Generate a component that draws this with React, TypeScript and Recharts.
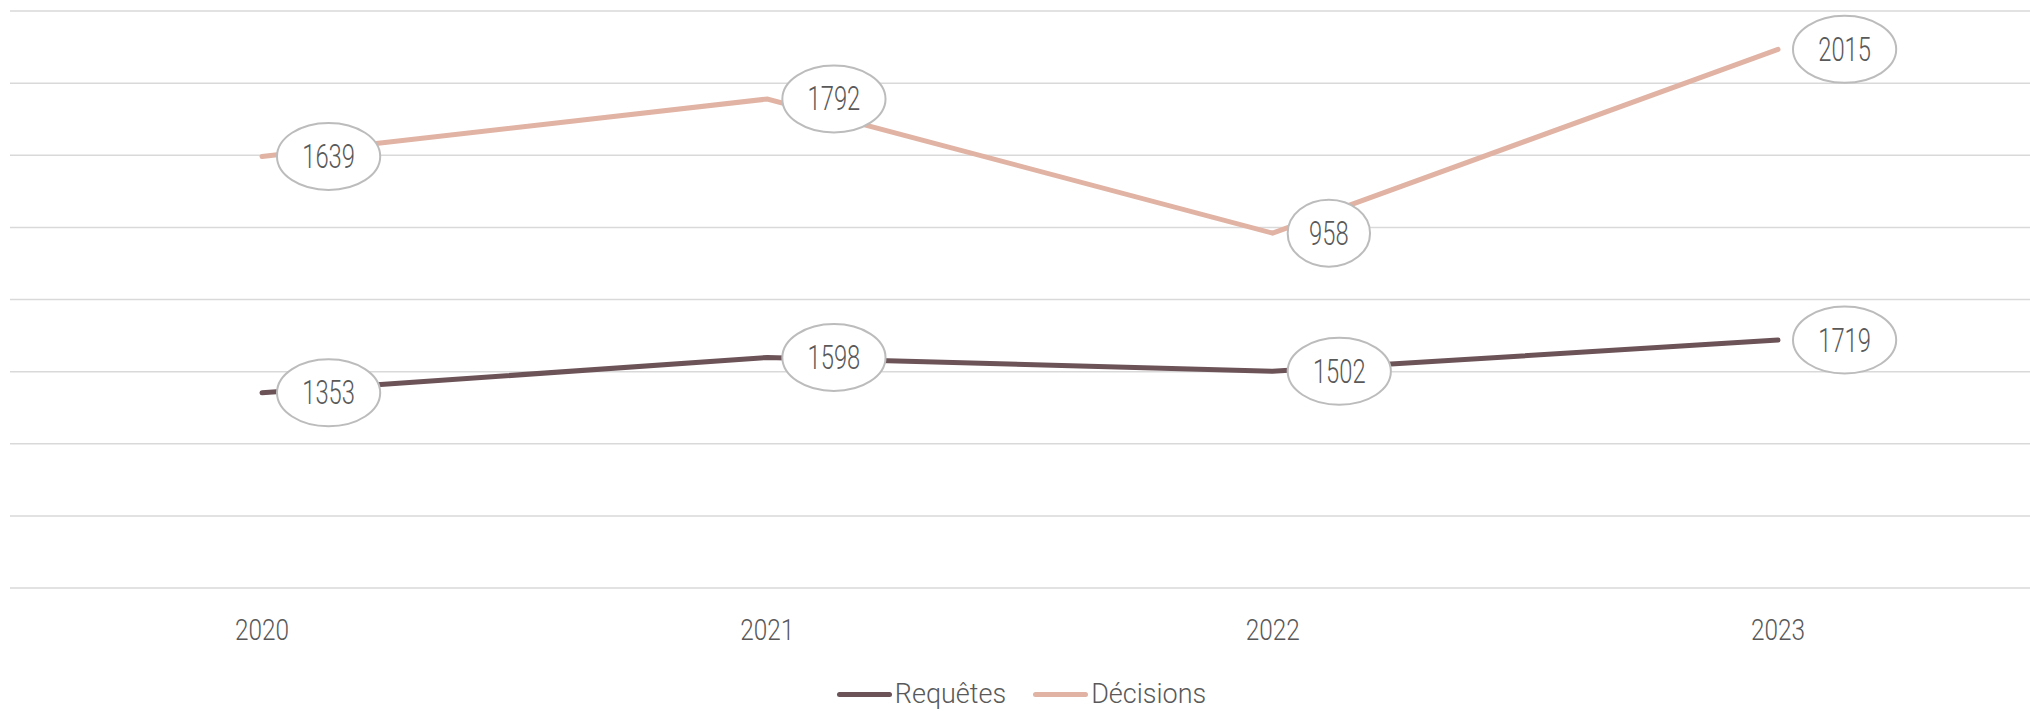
import React from 'react';
import { LineChart, Line, XAxis, YAxis, CartesianGrid, Legend, LabelList } from 'recharts';

const YEARS = ['2020', '2021', '2022', '2023'];
const REQUETES = [1353, 1598, 1502, 1719];
const DECISIONS = [1639, 1792, 958, 2015];
const Y_TICKS = [0, 500, 1000, 1500, 2000, 2500, 3000, 3500, 4000];

const FONT = 'Roboto, "DejaVu Sans Condensed", sans-serif';
const TEXT = '#595959';
const C_REQ = '#6b5358';
const C_DEC = '#e0b3a4';

// the décisions line sits on top of the requêtes (stacked lines)
const data = YEARS.map((year, i) => ({
  year,
  requetes: REQUETES[i],
  decisions: REQUETES[i] + DECISIONS[i],
}));

// the original uses a condensed face, so squeeze Roboto horizontally
const NarrowText = ({ x, y, size, squeeze, children }: any) => (
  <text
    transform={`translate(${x} ${y}) scale(${squeeze} 1)`}
    textAnchor="middle"
    dominantBaseline="central"
    fontSize={size}
    fontWeight={300}
    fill={TEXT}
    fontFamily={FONT}
  >
    {children}
  </text>
);

const bubble = (values: number[]) => (props: any) => {
  const { x, y, index } = props;
  const label = String(values[index]);
  const rx = 10 + label.length * 10.4;
  const cx = x + rx + 15;
  return (
    <g>
      <ellipse cx={cx} cy={y} rx={rx} ry={33.5} fill="#fff" stroke="#bcbcbc" strokeWidth={2} />
      <NarrowText x={cx} y={y} size={33} squeeze={0.72}>{label}</NarrowText>
    </g>
  );
};

const YearTick = (props: any) => (
  <NarrowText x={props.x} y={props.y + 8} size={29} squeeze={0.84}>{props.payload.value}</NarrowText>
);

const LegendBox = () => (
  <div style={{ display: 'flex', justifyContent: 'center', alignItems: 'center', height: 34, paddingLeft: 3, gap: 27, fontFamily: FONT, fontWeight: 300, fontSize: 27, color: TEXT }}>
    {[['Requêtes', C_REQ], ['Décisions', C_DEC]].map(([name, c]) => (
      <div key={name} style={{ display: 'flex', alignItems: 'center' }}>
        <span style={{ display: 'inline-block', width: 55, height: 5, borderRadius: 3, background: c, marginRight: 3 }} />
        {name}
      </div>
    ))}
  </div>
);

export default function App() {
  return (
    <div style={{ position: 'absolute', left: 0, top: 0, background: '#fff' }}>
      <LineChart width={2030} height={711} data={data} margin={{ top: 11, right: 0, bottom: 0, left: 10 }}>
        <CartesianGrid vertical={false} stroke="#d9d9d9" strokeWidth={1.5} />
        <XAxis
          dataKey="year"
          height={89}
          padding={{ left: 252, right: 252 }}
          axisLine={false}
          tickLine={false}
          tickSize={6}
          tickMargin={28}
          tick={<YearTick />}
        />
        <YAxis hide domain={[0, 4000]} ticks={Y_TICKS} />
        <Legend verticalAlign="bottom" content={<LegendBox />} />
        <Line type="linear" dataKey="requetes" name="Requêtes" stroke={C_REQ} strokeWidth={5} strokeLinecap="round" dot={false} isAnimationActive={false}>
          <LabelList dataKey="requetes" content={bubble(REQUETES)} />
        </Line>
        <Line type="linear" dataKey="decisions" name="Décisions" stroke={C_DEC} strokeWidth={5} strokeLinecap="round" dot={false} isAnimationActive={false}>
          <LabelList dataKey="decisions" content={bubble(DECISIONS)} />
        </Line>
      </LineChart>
    </div>
  );
}
